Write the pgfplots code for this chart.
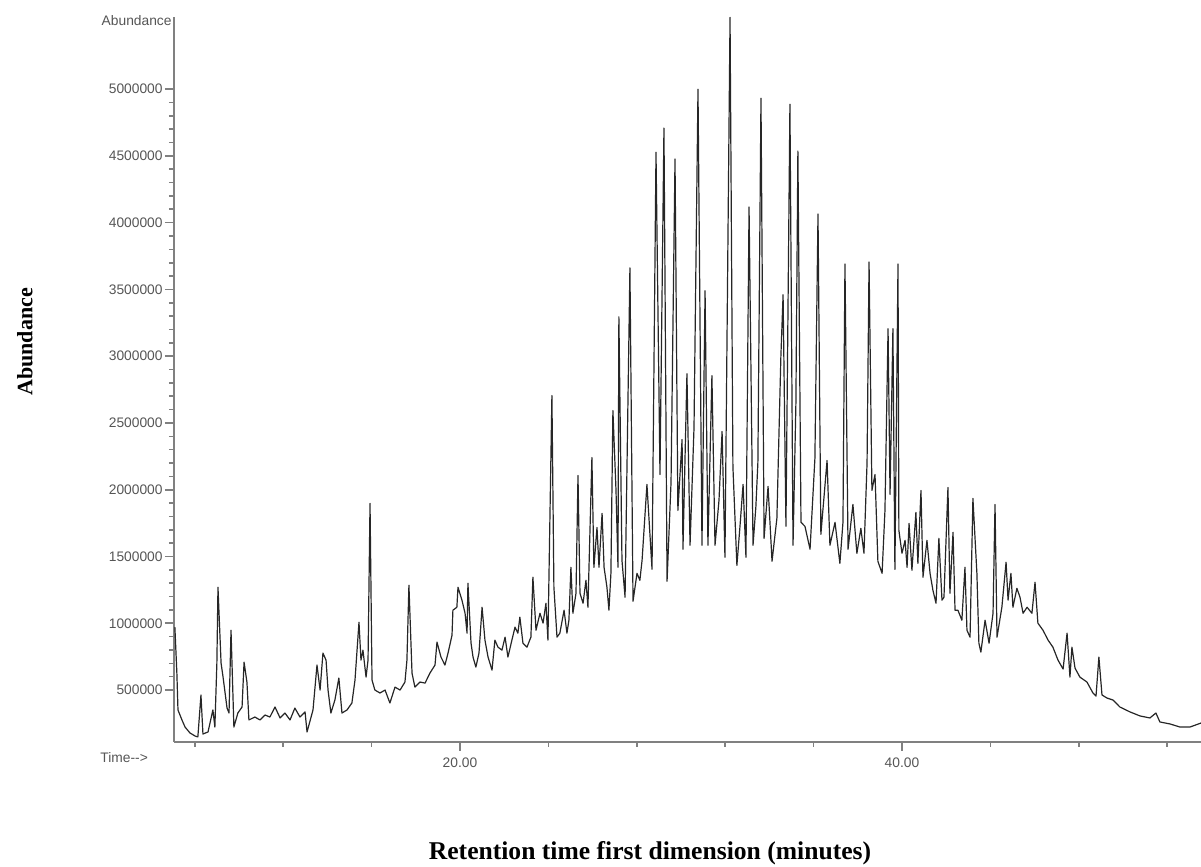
\documentclass[border=0pt]{standalone}
\usepackage{pgfplots}
\pgfplotsset{compat=1.18}
\usepackage{fontspec}
\setmainfont{Liberation Serif}
\newfontfamily\arial{Liberation Sans}
\definecolor{axgray}{RGB}{128,128,128}
\definecolor{lblgray}{RGB}{85,85,85}

\begin{document}
\begin{tikzpicture}
\useasboundingbox (-87pt,-62.5pt) rectangle (513.5pt,371pt);
\begin{axis}[
    scale only axis,
    width=513.5pt,
    height=362.5pt,
    xmin=7.06, xmax=53.53,
    ymin=111000, ymax=5540000,
    clip mode=individual,
    axis x line=bottom,
    axis y line=left,
    axis line style={-, axgray, line width=1pt},
    tick align=outside,
    tick style={axgray, line width=0.8pt},
    major tick length=4.5pt,
    minor tick length=2.5pt,
    xtick={20,40},
    xticklabels={20.00,40.00},
    minor xtick={8,12,16,24,28,32,36,44,48,52},
    ytick={500000,1000000,1500000,2000000,2500000,3000000,3500000,4000000,4500000,5000000},
    yticklabels={500000,1000000,1500000,2000000,2500000,3000000,3500000,4000000,4500000,5000000},
    minor y tick num=4,
    scaled y ticks=false,
    tick label style={font=\arial\fontsize{6.9}{8}\selectfont, text=lblgray},
    yticklabel style={inner sep=1pt},
    xlabel={\textbf{Retention time first dimension (minutes)}},
    ylabel={\textbf{Abundance}},
    xlabel style={font=\fontsize{12.8}{14}\selectfont, at={(axis description cs:0.4635,-0.153)}, anchor=center},
    ylabel style={font=\fontsize{11}{13}\selectfont, at={(axis description cs:-0.1451,0.552)}, anchor=center},
]

% total ion chromatogram
\addplot[black!85, line width=0.6pt, line join=round] coordinates {
(7.10,971000) (7.19,627000) (7.24,351000) (7.42,276000) (7.56,223000) (7.78,179000)
(8.01,156000) (8.14,149000) (8.28,463000) (8.37,171000) (8.60,186000) (8.82,351000)
(8.91,223000) (9.00,702000) (9.05,1270000) (9.19,702000) (9.28,597000) (9.46,365000)
(9.55,328000) (9.64,948000) (9.77,223000) (9.95,328000) (10.14,373000) (10.23,709000)
(10.36,560000) (10.45,276000) (10.72,298000) (10.95,276000) (11.18,313000) (11.40,298000)
(11.63,373000) (11.86,291000) (12.08,328000) (12.31,276000) (12.53,365000) (12.76,298000)
(12.99,336000) (13.08,186000) (13.35,351000) (13.53,687000) (13.67,500000) (13.80,777000)
(13.94,724000) (14.03,500000) (14.16,328000) (14.34,425000) (14.52,590000) (14.66,328000)
(14.89,351000) (15.11,403000) (15.25,575000) (15.43,1008000) (15.52,724000) (15.61,799000)
(15.75,597000) (15.84,724000) (15.93,1898000) (16.02,575000) (16.15,500000) (16.38,478000)
(16.61,500000) (16.83,403000) (17.06,522000) (17.29,500000) (17.51,560000) (17.60,724000)
(17.69,1285000) (17.83,627000) (17.96,522000) (18.19,560000) (18.42,552000) (18.64,627000)
(18.87,687000) (18.96,859000) (19.14,747000) (19.32,687000) (19.46,777000) (19.64,911000)
(19.68,1098000) (19.86,1120000) (19.91,1270000) (20.09,1173000) (20.23,1075000) (20.32,926000)
(20.36,1300000) (20.50,851000) (20.59,747000) (20.72,672000) (20.86,777000) (21.00,1120000)
(21.13,874000) (21.27,747000) (21.45,649000) (21.58,874000) (21.72,821000) (21.90,799000)
(22.04,896000) (22.17,747000) (22.35,874000) (22.49,971000) (22.62,926000) (22.71,1046000)
(22.85,851000) (23.03,821000) (23.21,896000) (23.30,1345000) (23.44,948000) (23.62,1075000)
(23.76,1001000) (23.89,1150000) (23.98,874000) (24.16,2705000) (24.25,1270000) (24.39,896000)
(24.52,926000) (24.71,1098000) (24.84,926000) (24.93,1023000) (25.02,1419000) (25.11,1075000)
(25.25,1225000) (25.34,2107000) (25.43,1225000) (25.57,1150000) (25.70,1322000) (25.79,1120000)
(25.97,2241000) (26.06,1419000) (26.20,1718000) (26.29,1419000) (26.43,1823000) (26.52,1419000)
(26.65,1270000) (26.74,1098000) (26.83,1374000) (26.92,2593000) (27.06,1995000) (27.15,1419000)
(27.19,3295000) (27.33,1472000) (27.47,1195000) (27.69,3661000) (27.83,1165000) (28.01,1374000)
(28.14,1322000) (28.24,1472000) (28.46,2040000) (28.69,1404000) (28.87,4528000) (29.05,2114000)
(29.23,4708000) (29.37,1315000) (29.55,2055000) (29.73,4476000) (29.86,1845000) (30.05,2376000)
(30.09,1554000) (30.27,2869000) (30.41,1584000) (30.59,2466000) (30.77,4999000) (30.95,1584000)
(31.09,3490000) (31.22,1584000) (31.40,2854000) (31.54,1584000) (31.72,1920000) (31.86,2436000)
(31.99,1494000) (32.22,5537000) (32.35,2174000) (32.53,1434000) (32.67,1726000) (32.81,2040000)
(32.94,1494000) (33.08,4117000) (33.26,1584000) (33.39,1875000) (33.48,2204000) (33.62,4932000)
(33.76,1636000) (33.94,2025000) (34.12,1464000) (34.34,1786000) (34.52,2996000) (34.62,3460000)
(34.75,1726000) (34.93,4887000) (35.07,1584000) (35.20,2645000) (35.29,4536000) (35.43,1756000)
(35.61,1726000) (35.84,1554000) (36.06,2234000) (36.20,4065000) (36.33,1666000) (36.61,2219000)
(36.74,1584000) (36.97,1756000) (37.19,1449000) (37.33,1756000) (37.42,3691000) (37.56,1554000)
(37.78,1890000) (37.96,1524000) (38.14,1711000) (38.28,1524000) (38.42,2204000) (38.51,3706000)
(38.64,1995000) (38.78,2114000) (38.91,1464000) (39.10,1374000) (39.23,1845000) (39.37,3206000)
(39.46,1965000) (39.59,3206000) (39.68,1404000) (39.82,3691000) (39.86,1696000) (40.00,1524000)
(40.14,1621000) (40.23,1419000) (40.32,1748000) (40.45,1397000) (40.63,1830000) (40.72,1449000)
(40.86,1995000) (40.95,1345000) (41.13,1621000) (41.27,1374000) (41.40,1247000) (41.54,1150000)
(41.67,1636000) (41.81,1173000) (41.90,1195000) (42.08,2017000) (42.17,1225000) (42.31,1681000)
(42.40,1098000) (42.53,1098000) (42.71,1023000) (42.85,1419000) (42.94,948000) (43.08,896000)
(43.21,1935000) (43.39,1374000) (43.48,851000) (43.57,784000) (43.76,1023000) (43.94,851000)
(44.12,1075000) (44.21,1890000) (44.30,896000) (44.52,1120000) (44.71,1457000) (44.80,1173000)
(44.93,1374000) (45.02,1120000) (45.20,1262000) (45.34,1195000) (45.48,1075000) (45.66,1120000)
(45.88,1075000) (46.02,1307000) (46.15,1001000) (46.38,948000) (46.61,874000) (46.83,821000)
(47.06,724000) (47.29,657000) (47.47,926000) (47.60,597000) (47.69,821000) (47.83,664000)
(48.05,597000) (48.37,560000) (48.64,478000) (48.78,455000) (48.91,747000) (49.05,463000)
(49.28,440000) (49.55,425000) (49.86,373000) (50.32,336000) (50.77,306000) (51.22,291000)
(51.49,328000) (51.67,261000) (52.13,246000) (52.58,223000) (53.03,223000) (53.53,253000)
};

\node[anchor=east, inner sep=0pt, font=\arial\fontsize{6.9}{8}\selectfont, text=lblgray]
    at (axis description cs:-0.002,0.995) {Abundance};
\node[anchor=west, inner sep=0pt, font=\arial\fontsize{6.9}{8}\selectfont, text=lblgray]
    at (axis description cs:-0.072,-0.021) {Time-{}->};
\end{axis}
\end{tikzpicture}
\end{document}
